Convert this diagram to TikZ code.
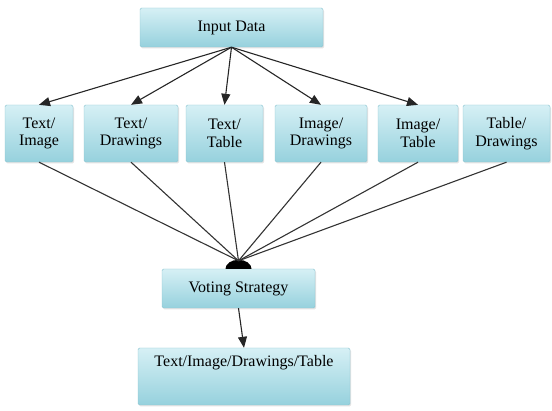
\documentclass[tikz,border=0pt]{standalone}
\usepackage{fontspec}
\setmainfont{Liberation Serif}
\usetikzlibrary{arrows.meta,calc,shadows}

\definecolor{boxtop}{RGB}{214,240,245}
\definecolor{boxbot}{RGB}{150,209,221}
\definecolor{boxedge}{RGB}{140,196,208}

\begin{document}
\begin{tikzpicture}[
    x=1pt,y=-1pt,
    block/.style={draw=boxedge,top color=boxtop,bottom color=boxbot,rounded corners=1.5pt,
      drop shadow={shadow xshift=1.2pt,shadow yshift=-1.5pt,fill=black!22},
      align=center,inner sep=0pt,minimum height=57pt,
      font=\fontsize{16}{17.5}\selectfont},
    feed/.style={-{Triangle[length=11pt,width=9pt]},line width=1.1pt,black!85},
    merge/.style={line width=1.1pt,black!80}
  ]
    \useasboundingbox (0,0) rectangle (552,411);

    % source, the six pairings, voting and the result
    \node[block,minimum width=183pt,minimum height=39pt] (input) at (231.5,27.5) {Input Data};
    \node[block,minimum width=68pt] (ti) at (39,133.5) {Text/\\Image};
    \node[block,minimum width=94pt] (td) at (131,133.5) {Text/\\Drawings};
    \node[block,minimum width=77pt] (tt) at (224.5,133.5) {Text/\\Table};
    \node[block,minimum width=92pt] (id) at (321,133.5) {Image/\\Drawings};
    \node[block,minimum width=80pt] (it) at (418,133.5) {Image/\\Table};
    \node[block,minimum width=87pt] (tdr) at (506.5,133.5) {Table/\\Drawings};
    \node[block,minimum width=153pt,minimum height=39pt] (vote) at (238.5,288.5) {Voting Strategy};
    \node[block,minimum width=212pt,text height=11pt,text depth=30pt] (out) at (244,376.5)
      {Text/Image/Drawings/Table};

    % joint on top of the voting box
    \fill (vote.north) ++(-13,0) arc[start angle=180,end angle=360,x radius=13,y radius=9];
    \coordinate (hub) at ($(vote.north)+(0,-8)$);

    % connectors
    \foreach \n in {ti,td,tt,id,it}
      \draw[feed] (input.south) -- (\n.north);
    \foreach \n in {ti,td,tt,id,it,tdr}
      \draw[merge] (\n.south) -- (hub);
    \draw[feed] (vote.south) -- (out.north);
\end{tikzpicture}
\end{document}
